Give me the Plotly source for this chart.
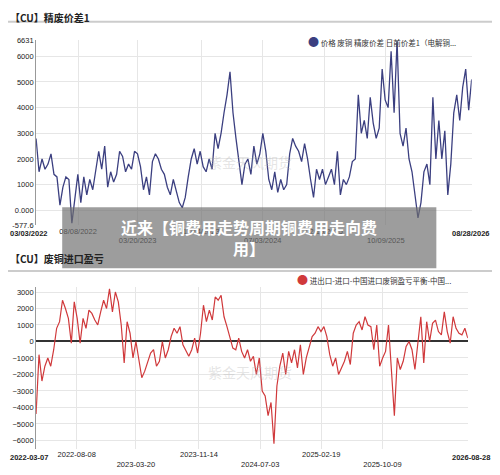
import pandas as pd
import plotly.graph_objects as go

# top chart: refined/scrap copper spread
spread = [2800,1500,2000,1600,1800,2200,1400,1300,200,900,1300,1200,-500,500,1400,300,1300,600,1200,800,
          1500,2300,1600,2500,900,1500,1100,1400,2300,2100,1500,1800,1600,2300,2200,1700,800,1300,600,1900,
          2200,2000,1600,1400,900,600,1200,800,300,100,500,1300,2000,2400,1800,2300,1700,1500,2000,1600,
          3000,2400,3000,3800,4500,5400,3800,2800,1800,1000,1800,2000,1400,2500,1800,2200,3000,2300,1200,800,
          1500,700,1200,800,1000,2200,2800,2500,2300,1900,2600,2000,1200,500,1600,1200,1600,1000,1300,1600,
          1000,2300,600,1200,1000,1300,1900,2000,4500,3000,3500,2800,4400,3400,2800,3200,5500,4300,4000,6200,
          3800,6600,3000,2500,3200,2000,1500,700,-300,300,1500,1800,1000,4400,2000,3500,2000,3100,600,1800,
          3800,4500,3500,4800,5500,3900,5100]

# bottom chart: scrap copper import profit/loss
profit = [-4400,-800,-2400,-1500,-1000,-1500,-500,800,1200,2500,2000,1400,-100,2400,1400,-100,1400,800,1900,1700,
          1300,1000,1800,2500,2000,3200,1800,3000,2400,1000,-1300,1200,500,-1000,0,-1200,-2200,-1800,-1200,-700,
          -500,-1500,-1200,0,-1000,-500,300,800,500,900,-200,-600,-900,-500,200,-700,500,2200,1200,1900,
          1300,2700,2500,2800,1500,900,200,-400,-500,200,-600,-1000,-500,-1200,-900,-2000,-1000,-3000,-3300,-4500,
          -3700,-6200,-2700,-1500,-700,-2000,-600,-1300,-500,-1600,-200,-2000,-1000,-300,300,500,900,600,900,300,
          -800,-1500,-1000,-2000,-1600,-1200,-600,-1400,500,1000,1200,700,1500,1000,900,-500,1000,-1500,-1000,-600,
          1000,-1500,-4500,-1000,-1700,-1200,-300,0,-500,-1700,-200,1500,-1300,1200,0,1100,1300,600,400,1800,
          600,-100,1500,800,500,400,800,200]

top_dates = pd.date_range("2022-03-03", "2026-08-28", periods=len(spread))
bot_dates = pd.date_range("2022-03-07", "2026-08-28", periods=len(profit))

top_ticks = ["2022-08-08", "2023-03-20", "2023-11-14", "2024-07-03", "2025-02-19", "2025-10-09"]
top_text = ["08/08/2022", "<br>03/20/2023", "11/14/2023", "<br>07/03/2024", "02/19/2025", "<br>10/09/2025"]
bot_ticks = ["2022-08-08", "2023-03-20", "2023-11-14", "2024-07-03", "2025-02-19", "2025-10-09"]
bot_text = ["2022-08-08", "<br>2023-03-20", "2023-11-14", "<br>2024-07-03", "2025-02-19", "<br>2025-10-09"]

top_y = [-577.6, 0, 1000, 2000, 3000, 4000, 5000, 6000, 6631]
top_y_text = ["-577.6", "0.000", "1000", "2000", "3000", "4000", "5000", "6000", "6631"]
bot_y = [-6000, -5000, -4000, -3000, -2000, -1000, 0, 1000, 2000, 3000]

fig = go.Figure()
fig.add_trace(go.Scatter(x=top_dates, y=spread, mode="lines", line=dict(color="#3b3f80", width=1.3),
                         xaxis="x", yaxis="y", showlegend=False))
fig.add_trace(go.Scatter(x=bot_dates, y=profit, mode="lines", line=dict(color="#d0393b", width=1.2),
                         xaxis="x2", yaxis="y2", showlegend=False))

tickf = dict(family="Liberation Sans", size=7.5, color="#222")
bold_end = dict(family="Liberation Sans", size=7.5, color="#222")
cjk = "Noto Sans CJK SC"


def end_label(text, x, y, anchor):
    return dict(text="<b>" + text + "</b>", x=x, y=y, xref="paper", yref="paper", xanchor=anchor,
                yanchor="top", showarrow=False, font=bold_end)


fig.update_layout(
    width=484, height=459, margin=dict(l=0, r=0, t=0, b=0),
    paper_bgcolor="white", plot_bgcolor="white",
    xaxis=dict(domain=[0.058, 0.958], anchor="y", type="date", range=["2022-03-03", "2026-08-28"],
               tickvals=top_ticks, ticktext=top_text, tickfont=tickf, tickangle=0, showgrid=True,
               gridcolor="#e6e6e6", showline=False, ticks="", automargin=False),
    yaxis=dict(domain=[0.527, 0.93], anchor="x", range=[-577.6, 6631], tickvals=top_y, ticktext=top_y_text,
               tickfont=tickf, showgrid=True, gridcolor="#e6e6e6", zeroline=False, showline=True,
               linecolor="#999", linewidth=1, automargin=False),
    xaxis2=dict(domain=[0.058, 0.95], anchor="y2", type="date", range=["2022-03-07", "2026-08-28"],
                tickvals=bot_ticks, ticktext=bot_text, tickfont=tickf, tickangle=0, showgrid=True,
                gridcolor="#e6e6e6", showline=False, ticks="", automargin=False),
    yaxis2=dict(domain=[0.04, 0.392], anchor="x2", range=[-6500, 3300], tickvals=bot_y,
                tickfont=tickf, showgrid=True, gridcolor="#e6e6e6", zeroline=True, zerolinecolor="#333",
                zerolinewidth=1.5, showline=True, linecolor="#999", linewidth=1, automargin=False),
    shapes=[
        dict(type="line", xref="paper", yref="paper", x0=0, x1=1, y0=0.97, y1=0.97, line=dict(color="#ccc", width=2)),
        dict(type="line", xref="paper", yref="paper", x0=0, x1=1, y0=0.427, y1=0.427, line=dict(color="#ccc", width=2)),
        dict(type="rect", xref="paper", yref="paper", x0=0.112, x1=0.885, y0=0.433, y1=0.566,
             fillcolor="rgba(110,110,110,0.68)", line=dict(width=0)),
    ],
    annotations=[
        dict(text="<b>【CU】精废价差1</b>", x=0.0, y=1.0, xref="paper", yref="paper", xanchor="left",
             yanchor="top", showarrow=False, font=dict(family=cjk, size=10, color="#222")),
        dict(text="<span style='color:#3b3f80;font-size:11px'>●</span> 价格 废铜 精废价差 日前价差1（电解铜...",
             x=0.93, y=0.95, xref="paper", yref="paper", xanchor="right", showarrow=False,
             font=dict(family=cjk, size=7.5, color="#333")),
        dict(text="<b>【CU】废铜进口盈亏</b>", x=0.0, y=0.454, xref="paper", yref="paper", xanchor="left",
             showarrow=False, font=dict(family=cjk, size=10, color="#222")),
        dict(text="<span style='color:#d0393b;font-size:11px'>●</span> 进出口-进口-中国进口废铜盈亏平衡-中国...",
             x=0.92, y=0.41, xref="paper", yref="paper", xanchor="right", showarrow=False,
             font=dict(family=cjk, size=7.5, color="#333")),
        end_label("03/03/2022", 0.0, 0.522, "left"),
        end_label("08/28/2026", 1.0, 0.522, "right"),
        end_label("2022-03-07", 0.0, 0.035, "left"),
        end_label("2026-08-28", 1.0, 0.035, "right"),
        dict(text="紫金天风期货", x=0.5, y=0.69, xref="paper", yref="paper", showarrow=False,
             font=dict(family=cjk, size=14, color="rgba(180,180,180,0.35)")),
        dict(text="紫金天风期货", x=0.5, y=0.18, xref="paper", yref="paper", showarrow=False,
             font=dict(family=cjk, size=14, color="rgba(180,180,180,0.35)")),
        dict(text="<b>近来【铜费用走势周期铜费用走向费<br>用】</b>", x=0.498, y=0.5, xref="paper", yref="paper",
             showarrow=False, font=dict(family=cjk, size=16, color="white")),
    ],
)

fig.write_html("out.html")
